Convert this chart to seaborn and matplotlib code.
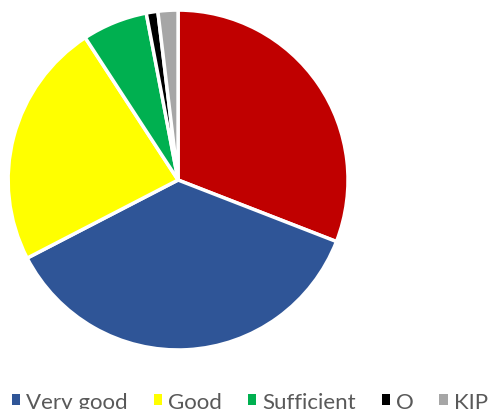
import matplotlib
matplotlib.use("Agg")
import matplotlib.pyplot as plt
import seaborn as sns
from matplotlib.patches import Patch

sns.set_theme(style="white")
plt.rcParams['font.family'] = ['Lato', 'DejaVu Sans']

# slice order, clockwise from 12 o'clock
labels = ['Excellent', 'Very good', 'Good', 'Sufficient', 'O', 'KIP']
shares = [30.9, 36.5, 23.4, 6.2, 1.1, 1.9]
colors = ['#C00000', '#2F5597', '#FFFF00', '#00B050', '#000000', '#A6A6A6']

fig = plt.figure(figsize=(4.88, 4.10), dpi=100)
ax = fig.add_axes([0.0164, 0.144, 0.697, 0.829])
ax.pie(shares, colors=colors, startangle=90, counterclock=False,
       wedgeprops=dict(edgecolor='white', linewidth=2.5))
ax.set_xlim(-1.0, 1.0)
ax.set_ylim(-1.0, 1.0)
ax.set_aspect('equal')

# the first legend entry sits off the left edge of the picture
handles = [Patch(facecolor=c, edgecolor='none') for c in colors[1:]]
fig.legend(handles, labels[1:], loc='center left', bbox_to_anchor=(0.024, 0.018),
           ncol=5, frameon=False, fontsize=16, handlelength=0.38, handleheight=0.38,
           handletextpad=0.28, columnspacing=1.15, labelcolor='#595959',
           borderpad=0.0, borderaxespad=0.0)

fig.savefig('out.png', dpi=100)
